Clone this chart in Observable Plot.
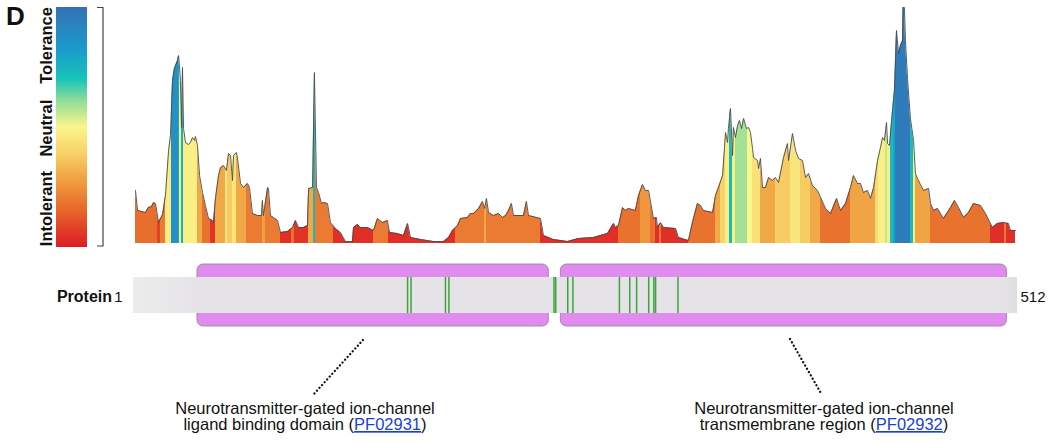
<!DOCTYPE html>
<html><head><meta charset="utf-8">
<script src="https://cdn.jsdelivr.net/npm/d3@7"></script>
<script src="https://cdn.jsdelivr.net/npm/@observablehq/plot@0.6"></script>
<style>
body{margin:0;background:#fff;}
#chart{width:1050px;height:446px;}
svg text{font-family:"Liberation Sans",Arial,sans-serif;}
</style></head><body><div id="chart"></div>
<script>
// ---- data ----
const residue = [
  1,2.2,4.5,6.8,8.5,10.3,11.5,12.6,14.4,16.7,
  18.4,20.2,21.3,22.5,23.6,25.4,26.0,26.5,27.1,27.7,
  28.3,28.9,30.0,31.8,32.9,34.1,35.3,35.8,37.0,38.2,
  39.9,41.6,43.4,45.7,46.3,47.5,49.2,50.4,52.1,53.8,
  55.0,56.2,57.3,57.9,59.6,60.2,62.0,63.7,66.0,67.2,
  68.9,71.8,74.2,74.7,75.3,77.7,78.2,79.4,81.1,83.5,
  85.2,89.3,92.2,93.9,95.7,98.6,100.9,101.5,103.8,104.9,
  106.1,107.3,109.0,110.2,112.5,114.2,117.1,120.0,122.9,127.0,
  127.6,129.9,131.7,135.7,139.2,141.5,144.4,147.3,148.5,153.1,
  156.6,159.0,160.7,166.5,174.0,179.9,182.8,185.1,188.0,189.7,
  193.8,195.5,197.3,200.2,202.5,203.7,204.8,206.0,208.9,211.8,
  214.1,215.9,217.6,219.3,220.5,226.3,228.0,229.2,236.2,237.9,
  243.7,251.9,258.2,267.0,275.1,278.6,279.7,281.5,283.8,285.5,
  287.3,291.3,293.1,295.4,297.1,298.9,301.8,303.5,304.1,305.9,
  307.6,314.6,316.3,322.1,324.4,327.3,329.1,330.8,336.1,337.8,
  339.5,341.9,343.0,343.6,344.8,345.3,346.5,347.7,348.2,349.4,
  350.6,351.7,352.9,354.1,355.8,357.0,358.1,359.3,359.9,362.2,
  362.8,363.9,365.1,366.8,368.6,370.9,372.6,374.4,377.3,379.6,
  380.2,382.5,384.3,386.0,388.3,390.1,391.8,394.1,397.0,401.7,
  404.6,408.1,410.4,413.3,416.2,417.9,420.3,422.0,423.7,426.1,
  427.8,429.6,431.9,433.6,434.8,435.9,437.1,437.7,438.8,440.6,
  441.7,442.9,444.1,445.2,446.4,446.7,447.5,448.1,449.3,451.0,
  452.8,453.9,455.1,456.8,458.6,461.5,462.7,464.4,466.7,468.5,
  470.2,474.3,476.6,478.9,481.8,484.7,487.6,491.7,494.6,498.6,
  501.5,505.0,507.9,509.1,512
];
const tolerance = [
  .53,.33,.32,.31,.36,.37,.41,.40,.21,.29,
  .48,.93,1.08,1.63,1.75,1.83,1.88,1.78,1.63,1.16,
  1.76,1.15,1.01,.99,1.01,1.06,1.03,1.07,.98,.68,
  .51,.38,.25,.23,.21,.46,.68,.76,.78,.73,
  .90,.88,.63,.88,.91,.86,.60,.56,.60,.56,
  .30,.28,.28,.43,.28,.56,.55,.28,.26,.23,
  .11,.12,.16,.23,.16,.16,.18,.55,.56,1.71,
  .56,.51,.40,.41,.40,.21,.15,.11,.02,.02,
  .16,.19,.16,.16,.13,.25,.21,.23,.11,.10,
  .08,.20,.06,.04,.02,.02,.06,.13,.18,.25,
  .26,.30,.30,.35,.42,.35,.45,.31,.28,.30,
  .26,.28,.33,.40,.28,.28,.42,.28,.25,.08,
  .04,.02,.05,.06,.10,.20,.16,.18,.36,.33,
  .35,.33,.48,.59,.53,.53,.25,.26,.16,.21,
  .16,.15,.06,.03,.21,.40,.38,.33,.31,.48,
  .56,.68,.95,1.11,1.01,1.15,1.35,.88,1.16,1.06,
  1.18,1.23,1.15,1.25,1.15,1.16,1.11,.95,.86,.83,
  .75,.85,.56,.56,.66,.63,.66,.61,.86,1.00,
  .83,1.10,.93,.85,.83,.66,.70,.58,.53,.35,
  .30,.45,.33,.40,.56,.68,.60,.60,.51,.53,
  .45,.56,.83,.96,1.06,1.03,1.21,1.00,.98,1.33,
  1.53,2.13,1.90,1.98,2.03,2.36,2.36,2.03,1.65,1.25,
  1.03,.70,.65,.59,.53,.55,.40,.33,.35,.30,
  .25,.36,.43,.36,.26,.31,.40,.38,.30,.16,
  .20,.21,.20,.13,.13
];
// per-residue colour bands (start residue, tolerance tone 0 = intolerant .. 1 = tolerant)
const bandStart = [1,13.8,15.5,18.4,21.9,26.0,26.8,27.7,28.9,37.0,
  39.9,44.6,47.5,53.3,54.4,57.3,59.6,65.5,74.7,76.5,
  85.2,91.6,93.3,101.5,104.4,105.5,116.0,139.2,147.9,186.8,
  203.7,204.8,236.2,281.5,294.3,300.1,303.0,305.3,306.4,322.1,
  337.8,340.7,343.6,345.9,347.7,349.4,356.4,359.3,363.9,372.6,
  381.3,387.2,393.0,398.8,416.2,430.7,432.5,436.5,437.7,439.4,
  441.2,442.3,451.0,452.8,453.9,462.7,497.5,505.6,506.8];
const bandTone = [.17,.08,.2,.47,.86,.78,.48,.76,.48,.3,
  .18,.05,.3,.45,.38,.45,.3,.2,.28,.2,
  .04,.18,.05,.3,.74,.2,.04,.2,.04,.2,
  .3,.2,.04,.18,.26,.18,.04,.2,.04,.18,
  .3,.4,.48,.72,.48,.59,.5,.44,.3,.38,
  .45,.38,.3,.18,.29,.42,.48,.56,.48,.72,
  .8,.95,.72,.48,.29,.18,.04,.2,.04];
const toneStops  = [0, 0.16, 0.28, 0.39, 0.5, 0.61, 0.7, 0.82, 1];
const toneColors = ["#dc1c24","#e8692b","#f0a040","#f8d068","#fbf68c","#90dc98","#18c4b8","#1a9ccc","#3570b5"];
const legendLabels = ["Intolerant","Neutral","Tolerance"];
const legendTone = [0.16, 0.495, 0.84];
const proteinEnds = [1, 512];
const domainStart = [37, 248];
const domainEnd = [241, 507];
const domainTitle = ["Neurotransmitter-gated ion-channel","Neurotransmitter-gated ion-channel"];
const domainDesc = ["ligand binding domain","transmembrane region"];
const domainPfam = ["PF02931","PF02932"];
const variantPos = [159,161,181,183,244,245,252,255,282,288,292,299,302,303,316];

// ---- build ----
const toneColor = d3.scaleLinear().domain(toneStops).range(toneColors).interpolate(d3.interpolateRgb);
const profile = residue.map((r,i)=>({pos:r, score:tolerance[i]}));
const domains = domainStart.map((s,i)=>({start:s, end:domainEnd[i]}));
const T = {barTop:-0.34, barBot:-0.70, domTop:-0.21, domBot:-0.83};

const plot = Plot.plot({
  width:1050, height:446, margin:0,
  style:{background:"#fff", fontFamily:"Liberation Sans, Arial, sans-serif", overflow:"visible"},
  x:{domain:[1,512], range:[135,1015], axis:null},
  y:{domain:[0,2.38], range:[243,5], axis:null},
  marks:[
    Plot.areaY(profile,{x:"pos", y:"score", fill:"url(#tolGrad)"}),
    Plot.lineY(profile,{x:"pos", y:"score", stroke:"#4a4a4a", strokeWidth:0.9}),
    Plot.rect(domains,{x1:"start", x2:"end", y1:T.domTop, y2:T.domBot, fill:"#e08bee", stroke:"#a07fa8", strokeWidth:0.9, rx:6}),
    Plot.rect([proteinEnds],{x1:d=>d[0], x2:d=>d[1], y1:T.barTop, y2:T.barBot, insetLeft:-2, insetRight:-2, fill:"url(#protGrad)"}),
    Plot.ruleX(variantPos,{x:d=>d, y1:T.barTop, y2:T.barBot, stroke:"#3aa63a", strokeWidth:1.5}),
    Plot.text([proteinEnds[0]],{x:d=>d, y:(T.barTop+T.barBot)/2, text:d=>String(d), dx:-17, dy:2, fontSize:15, fill:"#111"}),
    Plot.text([proteinEnds[1]],{x:d=>d, y:(T.barTop+T.barBot)/2, text:d=>String(d), textAnchor:"start", dx:5, dy:2, fontSize:15, fill:"#111"})
  ]
});
document.getElementById("chart").appendChild(plot);

const svg = d3.select(plot);
const xs = plot.scale("x");
const defs = svg.insert("defs", ":first-child");

// tolerance stripes gradient
const g = defs.append("linearGradient").attr("id","tolGrad").attr("gradientUnits","userSpaceOnUse")
  .attr("x1",0).attr("x2",1050).attr("y1",0).attr("y2",0);
bandStart.forEach((s,i)=>{
  const e = i < bandStart.length-1 ? bandStart[i+1] : proteinEnds[1];
  const c = toneColor(bandTone[i]);
  g.append("stop").attr("offset", xs.apply(s)/1050).attr("stop-color", c);
  g.append("stop").attr("offset", xs.apply(e)/1050).attr("stop-color", c);
});
// protein bar gradient
const pg = defs.append("linearGradient").attr("id","protGrad").attr("gradientUnits","userSpaceOnUse")
  .attr("x1",0).attr("x2",1050).attr("y1",0).attr("y2",0);
[[133,"#ececec"],[200,"#e6e3e8"],[1005,"#e6e3e8"],[1018,"#dddddd"]].forEach(([x,c])=>
  pg.append("stop").attr("offset", x/1050).attr("stop-color", c));
// legend gradient
const lg = defs.append("linearGradient").attr("id","legGrad").attr("x1",0).attr("x2",0).attr("y1",1).attr("y2",0);
toneStops.forEach((t,i)=> lg.append("stop").attr("offset", t).attr("stop-color", toneColors[i]));

const ann = svg.append("g").attr("text-anchor","start");
ann.append("rect").attr("x",56).attr("y",7).attr("width",31).attr("height",240).attr("fill","url(#legGrad)");
legendLabels.forEach((t,i)=> ann.append("text")
  .attr("transform",`translate(52,${247-240*legendTone[i]}) rotate(-90)`)
  .attr("text-anchor","middle").attr("font-weight","bold").attr("font-size",16.5).attr("fill","#111").text(t));
ann.append("path").attr("d","M97,7.5H103V246H97").attr("fill","none").attr("stroke","#444").attr("stroke-width",1.2);
ann.append("text").attr("x",6).attr("y",25).attr("text-anchor","start").attr("font-weight","bold").attr("font-size",26).attr("fill","#111").text("D");
ann.append("text").attr("x",112).attr("y",302).attr("text-anchor","end").attr("font-weight","bold").attr("font-size",16).attr("fill","#111").text("Protein");

// domain captions with dotted leaders
const leaders = [[363,340,313,395],[790,339,822,395]];
const capX = [305, 824];
domainTitle.forEach((t,i)=>{
  const [x1,y1,x2,y2] = leaders[i];
  ann.append("line").attr("x1",x1).attr("y1",y1).attr("x2",x2).attr("y2",y2)
    .attr("stroke","#111").attr("stroke-width",2.3).attr("stroke-linecap","round").attr("stroke-dasharray","0.1 3.7");
  ann.append("text").attr("x",capX[i]).attr("y",414).attr("text-anchor","middle").attr("font-size",16.5).attr("fill","#111").text(t);
  const l2 = ann.append("text").attr("x",capX[i]).attr("y",430).attr("text-anchor","middle").attr("font-size",16.5).attr("fill","#111");
  l2.append("tspan").text(domainDesc[i] + " (");
  l2.append("tspan").attr("fill","#1a3fd6").attr("text-decoration","underline").text(domainPfam[i]);
  l2.append("tspan").text(")");
});
</script></body></html>
